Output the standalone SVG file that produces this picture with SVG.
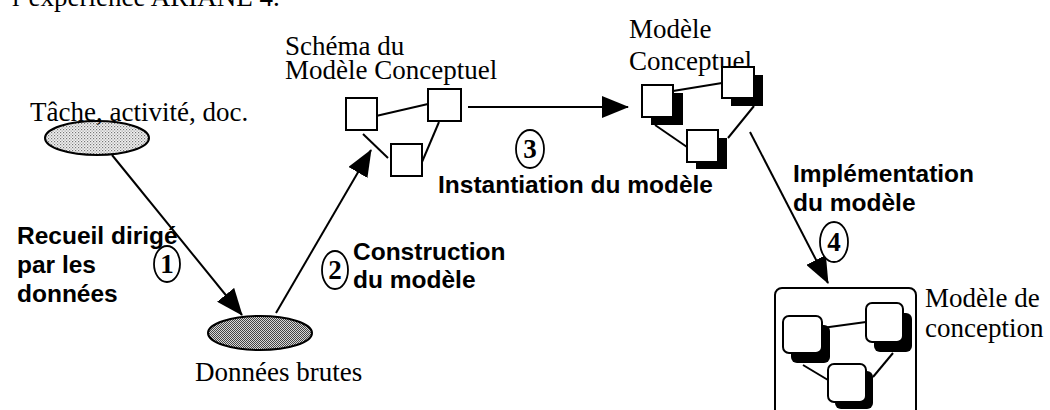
<svg xmlns="http://www.w3.org/2000/svg" width="1050" height="410" viewBox="0 0 1050 410">
<style>
.serif{font-family:"Liberation Serif","Times New Roman",serif;font-size:27px;fill:#000}
.bold{font-family:"Liberation Sans",Arial,sans-serif;font-weight:bold;font-size:24.5px;fill:#000}
.num{font-family:"Liberation Serif","Times New Roman",serif;font-weight:bold;font-size:27px;fill:#000;text-anchor:middle}
.ln{stroke:#000;stroke-width:2;fill:none}
.box{fill:#fff;stroke:#000;stroke-width:2}
.shd{fill:#000;stroke:none}
.circ{fill:#fff;stroke:#000;stroke-width:1.8}
</style>
<defs>
<pattern id="light" width="3" height="3" patternUnits="userSpaceOnUse">
<rect width="3" height="3" fill="#f2f2f2"/>
<rect x="0" y="0" width="1.2" height="1.2" fill="#777"/>
<rect x="1.5" y="1.5" width="1.2" height="1.2" fill="#999"/>
</pattern>
<pattern id="dark" width="2" height="2" patternUnits="userSpaceOnUse">
<rect width="2" height="2" fill="#d8d8d8"/>
<rect x="0" y="0" width="1" height="1" fill="#444"/>
<rect x="1" y="1" width="1" height="1" fill="#444"/>
</pattern>
<marker id="arr" markerUnits="userSpaceOnUse" markerWidth="27" markerHeight="22" refX="26" refY="11" orient="auto">
<path d="M0,0 L27,11 L0,22 z" fill="#000"/>
</marker>
</defs>
<text class="serif" x="12" y="6">l’expérience ARIANE 4.</text>
<g id="connectors">
<line class="ln" x1="112" y1="155" x2="242" y2="315" marker-end="url(#arr)"/>
<line class="ln" x1="276" y1="313" x2="371" y2="150" marker-end="url(#arr)"/>
<line class="ln" x1="468" y1="107" x2="628" y2="107" marker-end="url(#arr)"/>
<line class="ln" x1="750" y1="132" x2="828" y2="283" marker-end="url(#arr)"/>
</g>
<g id="step1">
<ellipse class="circ" cx="167" cy="264" rx="13" ry="18"/>
<text class="num" x="167" y="273">1</text>
<text class="bold" x="17" y="244">Recueil dirigé</text>
<text class="bold" x="17" y="273">par les</text>
<text class="bold" x="17" y="302">données</text>
</g>
<g id="step2">
<ellipse class="circ" cx="335" cy="270" rx="13" ry="19"/>
<text class="num" x="335" y="279">2</text>
<text class="bold" x="353" y="260">Construction</text>
<text class="bold" x="353" y="288">du modèle</text>
</g>
<g id="step3">
<ellipse class="circ" cx="530" cy="149" rx="14" ry="19"/>
<text class="num" x="530" y="158">3</text>
<text class="bold" x="438" y="193">Instantiation du modèle</text>
</g>
<g id="step4">
<text class="bold" x="793" y="182">Implémentation</text>
<text class="bold" x="793" y="211">du modèle</text>
<ellipse class="circ" cx="834" cy="242" rx="14" ry="20"/>
<text class="num" x="834" y="251">4</text>
</g>
<g id="tache">
<ellipse cx="97" cy="138" rx="52" ry="17" fill="url(#light)" stroke="#000" stroke-width="2"/>
<text class="serif" x="30" y="121">Tâche, activité, doc.</text>
</g>
<g id="donnees">
<ellipse cx="260" cy="333" rx="52" ry="17" fill="url(#dark)" stroke="#000" stroke-width="2"/>
<text class="serif" x="195" y="381">Données brutes</text>
</g>
<g id="schema">
<text class="serif" x="285" y="55">Schéma du</text>
<text class="serif" x="285" y="79">Modèle Conceptuel</text>
<line class="ln" x1="376" y1="116" x2="428" y2="104"/>
<line class="ln" x1="439" y1="122" x2="422" y2="162"/>
<line class="ln" x1="363" y1="134" x2="388" y2="158"/>
<rect class="box" x="346" y="98" width="31" height="32"/>
<rect class="box" x="428" y="89" width="33" height="32"/>
<rect class="box" x="391" y="144" width="31" height="32"/>
</g>
<g id="modele-conceptuel">
<text class="serif" x="629" y="38">Modèle</text>
<text class="serif" x="629" y="70">Conceptuel</text>
<line class="ln" x1="673" y1="91" x2="722" y2="83"/>
<line class="ln" x1="655" y1="125" x2="687" y2="147"/>
<line class="ln" x1="754" y1="106" x2="728" y2="138"/>
<rect class="shd" x="651" y="93" width="32" height="32"/>
<rect class="box" x="642" y="85" width="31" height="32"/>
<rect class="shd" x="731" y="75" width="32" height="31"/>
<rect class="box" x="722" y="67" width="32" height="31"/>
<rect class="shd" x="696" y="138" width="31" height="31"/>
<rect class="box" x="687" y="130" width="31" height="32"/>
</g>
<g id="modele-conception">
<rect x="775" y="288" width="141" height="140" rx="7" fill="#fff" stroke="#000" stroke-width="2"/>
<text class="serif" x="925" y="307">Modèle de</text>
<text class="serif" x="925" y="337">conception</text>
<line class="ln" x1="822" y1="328" x2="866" y2="322"/>
<line class="ln" x1="803" y1="365" x2="828" y2="380"/>
<line class="ln" x1="893" y1="353" x2="873" y2="377"/>
<rect class="shd" x="791" y="325" width="39" height="38" rx="6"/>
<rect class="box" x="783" y="316" width="39" height="37" rx="6"/>
<rect class="shd" x="874" y="313" width="38" height="39" rx="6"/>
<rect class="box" x="866" y="303" width="37" height="39" rx="6"/>
<rect class="shd" x="835" y="371" width="38" height="38" rx="6"/>
<rect class="box" x="828" y="364" width="38" height="38" rx="6"/>
</g>
</svg>
